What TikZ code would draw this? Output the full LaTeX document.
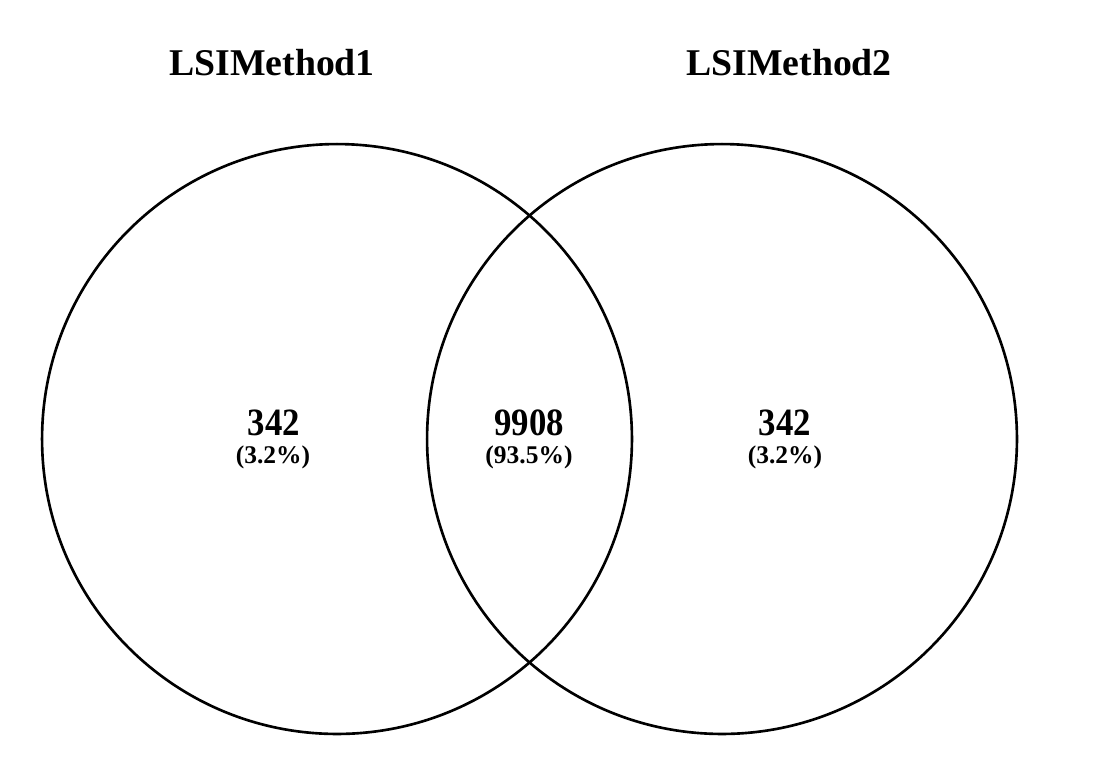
\documentclass[tikz,border=0pt]{standalone}
\usepackage{fontspec}
\setmainfont{Liberation Serif}
\newfontfamily\condserif[FakeStretch=0.9]{Liberation Serif}
\usetikzlibrary{shapes}

\begin{document}
\begin{tikzpicture}[x=0.02cm,y=-0.02cm]
\tikzstyle{setcircle}=[
	circle,
	draw,
	line width=1.5pt,
	inner sep=0pt,
	minimum size=11.8cm ]
\tikzstyle{settitle}=[anchor=base, inner sep=0pt, font=\bfseries\fontsize{21.5}{25}\selectfont]
\tikzstyle{count}=[anchor=base, inner sep=0pt, font=\condserif\bfseries\fontsize{22}{26}\selectfont]
\tikzstyle{share}=[anchor=base, inner sep=0pt, font=\bfseries\fontsize{14.5}{17}\selectfont]
\useasboundingbox (0,0) rectangle (1104,782);
% the two sets
\node[setcircle] (c1) at (337,439) {};
\node[setcircle] (c2) at (722,439) {};
% set names
\node[settitle] (title1) at (272,75) {LSIMethod1};
\node[settitle] (title2) at (789,75) {LSIMethod2};
% counts
\node[count] (n1) at (274,435) {342};
\node[share] (p1) at (273,463) {(3.2\%)};
\node[count] (n12) at (529,435) {9908};
\node[share] (p12) at (529,463) {(93.5\%)};
\node[count] (n2) at (785,435) {342};
\node[share] (p2) at (785,463) {(3.2\%)};
\end{tikzpicture}
\end{document}
